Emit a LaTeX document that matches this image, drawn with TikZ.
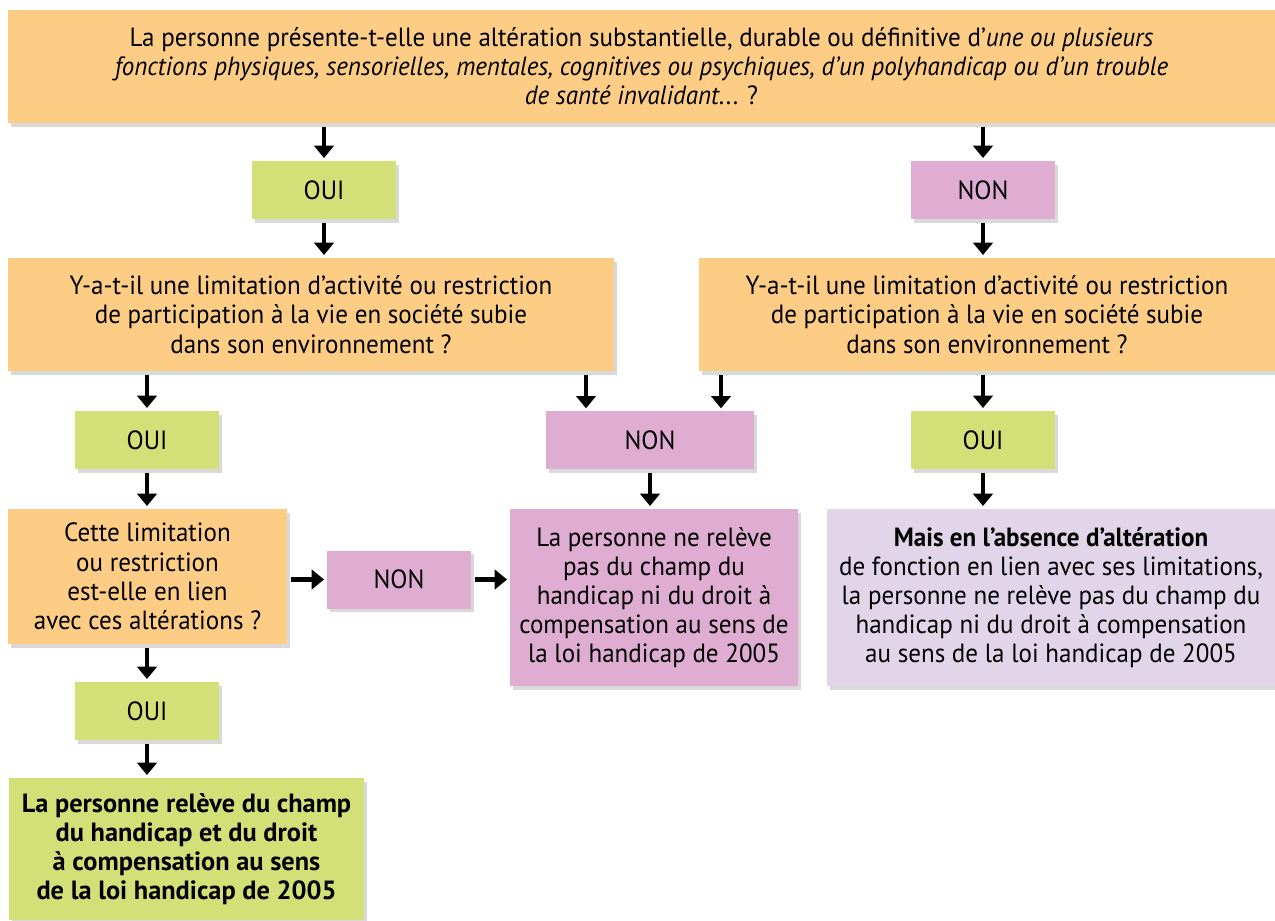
\documentclass[tikz,border=0pt]{standalone}
\usepackage{fontspec}
\setmainfont{PT Sans}[FakeStretch=0.95]
\newfontfamily\widebold{PT Sans}[FakeStretch=1.0]
\usetikzlibrary{arrows.meta,shadows}
\definecolor{askorange}{HTML}{FDCD85}
\definecolor{ouigreen}{HTML}{D3E078}
\definecolor{nonpink}{HTML}{DEADD1}
\definecolor{lilac}{HTML}{E2D5EA}
\tikzset{
  box/.style={rectangle, inner sep=3pt, align=center,
    font=\fontsize{15}{16.6}\selectfont,
    drop shadow={shadow xshift=1.5pt, shadow yshift=-2pt, opacity=.3}},
  ask/.style={box, fill=askorange},
  oui/.style={box, fill=ouigreen, minimum width=2.88cm, minimum height=1.16cm},
  non/.style={box, fill=nonpink, minimum width=2.88cm, minimum height=1.16cm},
  arr/.style={line width=2.7pt, -{Triangle[length=7pt,width=11pt]},
    shorten <=2pt, shorten >=1.5pt}
}
\begin{document}
\begin{tikzpicture}[x=0.02cm,y=-0.02cm]
\useasboundingbox (0,0) rectangle (1275,920);
% First question
\node[ask, minimum width=25.34cm, minimum height=2.26cm] (q1) at (641.5,66.5)
  {La personne présente-t-elle une altération substantielle, durable ou définitive d’\textit{une ou plusieurs}\\
   \textit{fonctions physiques, sensorielles, mentales, cognitives ou psychiques, d’un polyhandicap ou d’un trouble}\\
   \textit{de santé invalidant}... ?};
\node[oui] (oui1) at (324,190) {OUI};
\node[non] (non1) at (983,190) {NON};
% Second questions
\node[ask, minimum width=12.12cm, minimum height=2.26cm] (q2l) at (311,314.5)
  {Y-a-t-il une limitation d’activité ou restriction\\ de participation à la vie en société subie\\ dans son environnement ?};
\node[ask, minimum width=11.52cm, minimum height=2.26cm] (q2r) at (987,314.5)
  {Y-a-t-il une limitation d’activité ou restriction\\ de participation à la vie en société subie\\ dans son environnement ?};
\node[oui] (oui2) at (147,440) {OUI};
\node[non, minimum width=4.16cm] (non2) at (650,440) {NON};
\node[oui] (oui3) at (983,440) {OUI};
\coordinate (n2left) at (586,411);
\coordinate (n2right) at (721,411);
% Third question and results
\node[ask, minimum width=5.58cm, minimum height=2.7cm] (q3) at (147.5,576.5)
  {Cette limitation\\ ou restriction\\ est-elle en lien\\ avec ces altérations ?};
\node[non] (non3) at (399,579.5) {NON};
\node[box, fill=nonpink, minimum width=5.76cm, minimum height=3.54cm] (resnon) at (654,597.5)
  {La personne ne relève\\ pas du champ du\\ handicap ni du droit à\\ compensation au sens de\\ la loi handicap de 2005};
\node[box, fill=lilac, minimum width=8.96cm, minimum height=3.54cm] (resabs) at (1051,597.5)
  {\textbf{Mais en l’absence d’altération}\\ de fonction en lien avec ses limitations,\\ la personne ne relève pas du champ du\\ handicap ni du droit à compensation\\ au sens de la loi handicap de 2005};
\node[oui] (oui4) at (147,711) {OUI};
\node[box, fill=ouigreen, minimum width=7.1cm, minimum height=2.84cm,
  font=\widebold\bfseries\fontsize{15}{16.6}\selectfont] (resoui) at (186.5,849)
  {La personne relève du champ\\ du handicap et du droit\\ à compensation au sens\\ de la loi handicap de 2005};
% Arrows
\draw[arr] (q1.south -| oui1) -- (oui1.north);
\draw[arr] (q1.south -| non1) -- (non1.north);
\draw[arr] (oui1.south) -- (oui1 |- q2l.north);
\draw[arr] (non1.south) -- (non1 |- q2r.north);
\draw[arr] (q2l.south -| oui2) -- (oui2.north);
\draw[arr] (q2l.south -| n2left) -- (n2left);
\draw[arr] (q2r.south -| n2right) -- (n2right);
\draw[arr] (q2r.south -| oui3) -- (oui3.north);
\draw[arr] (oui2.south) -- (oui2 |- q3.north);
\draw[arr] (non2.south) -- (non2 |- resnon.north);
\draw[arr] (oui3.south) -- (oui3 |- resabs.north);
\draw[arr] (q3.east |- non3) -- (non3.west);
\draw[arr] (non3.east) -- (non3 -| resnon.west);
\draw[arr] (q3.south -| oui4) -- (oui4.north);
\draw[arr] (oui4.south) -- (oui4 |- resoui.north);
\end{tikzpicture}
\end{document}
